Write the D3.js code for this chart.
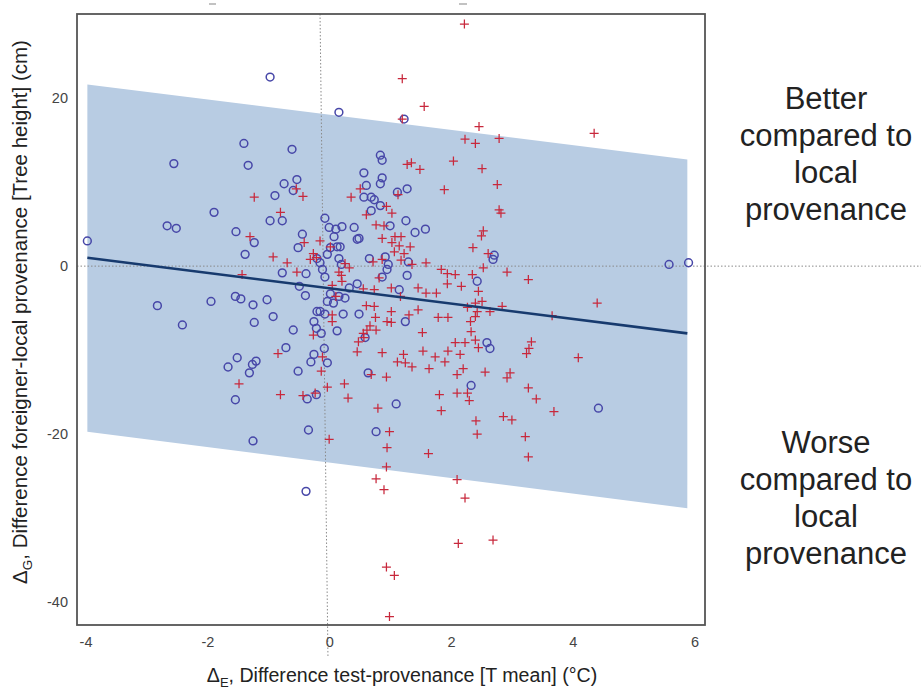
<!DOCTYPE html>
<html><head><meta charset="utf-8">
<script src="https://cdn.jsdelivr.net/npm/d3@7"></script>
<style>
html,body{margin:0;padding:0;background:#fff;}
svg{display:block;font-family:"Liberation Sans",Arial,sans-serif;}
</style></head>
<body>
<svg id="chart" width="921" height="689"></svg>
<script>
// ---- data ----
const circleX = [-0.97,0.16,1.23,-1.40,-0.61,-2.55,-1.33,0.84,0.87,0.57,0.87,0.84,0.61,-0.74,-0.53,-0.59,-0.89,1.12,1.28,0.57,0.69,0.74,0.84,-1.89,0.69,-0.07,-0.97,-0.77,1.26,-2.66,-2.51,0,0.11,0.21,0.41,1.00,-1.53,-0.44,0.08,1.41,1.58,0.46,0.49,-3.97,-1.23,-0.51,0.02,0.13,0.18,-1.38,-0.03,0.66,0.92,2.71,2.69,-0.20,0.16,-0.15,1.30,5.58,5.90,0.20,0.97,0.95,-0.11,-0.77,-0.38,-0.07,1.28,0.87,2.43,0.46,-0.49,0.33,1.15,0.02,-0.39,-1.54,-1.45,-1.02,-1.94,0.16,0.26,-0.03,0.07,-2.82,-1.25,-0.15,-0.07,0.23,0.49,-0.92,-0.25,-1.23,-2.41,1.25,-0.59,-0.21,-0.13,0.13,0.59,2.59,2.64,-0.71,-0.08,-0.25,-1.51,-1.20,-0.30,-0.03,-1.66,-1.26,-1.31,-0.51,0.64,2.33,-1.54,-0.36,-0.21,1.10,4.42,-0.34,0.77,-1.25,-0.38,-0.20];
const circleY = [22.5,18.3,17.5,14.6,13.9,12.2,12.0,13.2,12.6,11.1,10.5,9.8,9.6,9.8,10.3,9.0,8.4,8.8,9.2,8.2,8.2,7.9,7.2,6.4,6.6,5.7,5.4,5.4,5.4,4.8,4.5,4.6,4.4,4.7,4.6,4.8,4.1,3.8,3.5,4.0,4.4,3.2,3.3,3.0,2.8,2.2,2.2,2.3,2.3,1.4,1.4,0.9,1.1,1.3,0.8,0.9,0.9,0.4,0.5,0.2,0.4,0.2,0.2,-0.4,-0.4,-0.8,-0.9,-1.3,-1.1,-1.3,-1.8,-2.1,-2.4,-2.6,-2.8,-3.3,-3.5,-3.6,-3.9,-4.0,-4.2,-3.6,-3.8,-4.2,-4.4,-4.7,-4.6,-5.4,-5.7,-5.7,-5.7,-6.0,-6.6,-6.7,-7.0,-6.6,-7.6,-7.4,-8.0,-7.7,-8.5,-9.1,-9.8,-9.7,-9.8,-10.5,-10.9,-11.3,-11.4,-11.5,-12.0,-11.7,-12.7,-12.5,-12.7,-14.2,-15.9,-15.8,-15.3,-16.4,-16.9,-19.5,-19.7,-20.8,-26.8,-5.4];
const plusX = [2.22,1.20,1.56,1.20,2.46,4.35,2.23,2.40,2.79,2.04,1.28,1.35,1.49,2.51,2.76,1.89,0.51,-0.54,-1.23,-0.43,0.36,1.13,0.94,2.79,2.82,-0.80,1.03,0.61,0.77,0.90,2.53,2.50,-1.30,1.08,1.18,0.87,-0.41,-0.15,1.03,1.15,1.33,2.36,0.02,1.07,1.23,2.61,-0.26,-0.21,-0.31,-0.92,-0.69,0.72,0.87,1.18,1.36,1.59,0.26,0.33,1.84,1.94,2.07,2.35,2.53,2.92,3.27,0.16,0.20,-0.53,-1.43,0.82,0.21,0.05,0.56,0.74,1.02,1.46,1.59,1.76,1.94,2.17,2.45,1.17,0.11,4.40,3.66,2.84,2.27,2.40,2.51,2.64,2.43,0.61,0.74,1.02,1.46,1.31,0.76,0.95,1.02,1.79,1.95,2.32,2.40,0.05,0.05,0.67,0.62,0.77,0.56,1.53,2.33,-0.26,0.57,0.48,0.46,2.23,2.40,2.45,2.07,3.32,3.28,3.24,0.87,1.22,1.54,1.74,1.95,2.15,4.09,-0.84,-0.11,1.12,1.25,1.36,1.64,1.90,2.20,2.10,2.56,-0.13,0.69,0.94,2.97,2.92,-0.03,0.25,0.31,-1.48,-0.80,-0.43,-0.23,3.27,3.40,1.81,2.10,2.27,2.30,0.80,1.84,3.69,2.86,3.00,2.41,0.99,2.43,3.22,0,0.95,1.63,3.27,0.94,0.77,2.10,0.90,2.23,2.12,2.69,0.94,1.07,0.99];
const plusY = [28.8,22.3,19.0,17.5,16.6,15.8,15.1,14.6,15.2,12.5,12.1,12.3,11.5,11.6,9.7,9.1,9.2,9.2,8.2,8.3,8.2,8.5,7.1,6.7,6.3,6.4,6.3,6.1,4.9,4.8,4.2,3.6,3.5,3.5,3.5,3.3,2.8,3.0,2.8,2.4,2.3,2.2,2.3,1.7,1.5,1.5,1.5,1.0,0.8,1.1,0.4,0.5,0.8,0.7,0.2,0.4,0.3,-0.2,-0.4,-0.9,-1.0,-1.0,-0.2,-0.7,-1.6,-0.7,-1.1,-0.7,-1.0,-1.4,-1.8,-2.3,-2.7,-2.8,-2.6,-2.6,-3.2,-3.2,-2.1,-2.4,-3.0,-3.6,-3.6,-4.4,-5.9,-4.8,-4.9,-4.4,-4.2,-5.4,-5.4,-4.7,-4.8,-5.4,-5.2,-5.8,-6.1,-6.6,-6.7,-6.1,-6.1,-6.6,-6.0,-5.8,-6.6,-7.1,-7.6,-7.6,-8.0,-7.9,-7.8,-8.2,-8.5,-9.0,-10.2,-9.1,-8.8,-9.7,-9.1,-9.0,-9.8,-10.4,-10.3,-10.5,-10.1,-10.8,-10.1,-10.5,-10.9,-10.4,-10.8,-11.4,-11.5,-12.0,-12.2,-11.4,-12.2,-12.9,-12.6,-12.5,-12.9,-13.2,-12.7,-13.3,-14.4,-14.0,-15.7,-14.0,-15.3,-15.4,-15.1,-14.5,-15.8,-15.3,-15.1,-15.1,-16.0,-16.9,-17.2,-17.3,-17.9,-18.3,-18.4,-19.7,-20.0,-20.3,-20.6,-21.6,-22.3,-22.7,-23.9,-25.3,-25.4,-26.6,-27.6,-33.0,-32.6,-35.8,-36.8,-41.7];
// regression line and its band (ends at the data range)
const fitX = [-3.97, 5.88];
const fitY = [1.0, -8.0];
const bandUpper = [21.6, 12.7];
const bandLower = [-19.7, -28.8];
// axes
const xTicks = [-4, -2, 0, 2, 4, 6];
const yTicks = [20, 0, -20, -40];
const xDomain = [-4.14, 6.17];
const yDomain = [-42.7, 30];
const annotBetter = ["Better", "compared to", "local", "provenance"];
const annotWorse = ["Worse", "compared to", "local", "provenance"];

// ---- drawing ----
const svg = d3.select("#chart");
const L = 77, R = 705, T = 14, B = 625;
const x = d3.scaleLinear().domain(xDomain).range([L, R]);
const y = d3.scaleLinear().domain(yDomain).range([B, T]);

// band
const bandPts = [[fitX[0], bandUpper[0]], [fitX[1], bandUpper[1]], [fitX[1], bandLower[1]], [fitX[0], bandLower[0]]];
svg.append("path")
  .attr("d", d3.line().x(d => x(d[0])).y(d => y(d[1]))(bandPts) + "Z")
  .attr("fill", "#b8cce3");

// reference dotted lines
svg.append("line")
  .attr("x1", x(xDomain[0])).attr("x2", 921)
  .attr("y1", y(0)).attr("y2", y(0))
  .attr("stroke", "#8a8a8a").attr("stroke-width", 1).attr("stroke-dasharray", "1.5,2");
svg.append("line")
  .attr("x1", x(-0.15)).attr("x2", x(-0.02))
  .attr("y1", T).attr("y2", B + 32)
  .attr("stroke", "#8a8a8a").attr("stroke-width", 1).attr("stroke-dasharray", "1.5,2");

// circles
const circ = circleX.map((v, i) => [v, circleY[i]]);
svg.append("g").selectAll("circle").data(circ).join("circle")
  .attr("cx", d => x(d[0])).attr("cy", d => y(d[1])).attr("r", 3.9)
  .attr("fill", "none").attr("stroke", "#4747a8").attr("stroke-width", 1.5);

// pluses
const plus = plusX.map((v, i) => [v, plusY[i]]);
const ps = 4.5;
svg.append("g").selectAll("path").data(plus).join("path")
  .attr("d", d => `M${x(d[0]) - ps},${y(d[1])}H${x(d[0]) + ps}M${x(d[0])},${y(d[1]) - ps}V${y(d[1]) + ps}`)
  .attr("stroke", "#c8283c").attr("stroke-width", 1.25).attr("fill", "none");

// fit line
svg.append("path")
  .attr("d", d3.line().x(d => x(d[0])).y(d => y(d[1]))(fitX.map((v, i) => [v, fitY[i]])))
  .attr("stroke", "#173a6e").attr("stroke-width", 2.6).attr("fill", "none");

// frame
svg.append("rect").attr("x", L).attr("y", T).attr("width", R - L).attr("height", B - T)
  .attr("fill", "none").attr("stroke", "#555").attr("stroke-width", 1.8);

// axes (plain hyphen minus, as in the reference)
const fmt = d => String(d);
const xa = svg.append("g").attr("transform", `translate(0,${B})`)
  .call(d3.axisBottom(x).tickValues(xTicks).tickSize(0).tickPadding(12).tickFormat(fmt));
const ya = svg.append("g").attr("transform", `translate(${L},0)`)
  .call(d3.axisLeft(y).tickValues(yTicks).tickSize(0).tickPadding(9).tickFormat(fmt));
[xa, ya].forEach(g => {
  g.select(".domain").remove();
  g.selectAll("text").attr("fill", "#444").attr("font-size", 14.5)
    .attr("font-family", '"Liberation Sans",Arial,sans-serif');
});

// axis titles
const xt = svg.append("text").attr("x", 402).attr("y", 682).attr("text-anchor", "middle")
  .attr("font-size", 19.6).attr("fill", "#222");
xt.append("tspan").text("\u0394");
xt.append("tspan").attr("font-size", 13).attr("dy", 5).text("E");
xt.append("tspan").attr("dy", -5).text(", Difference test-provenance [T mean] (\u00B0C)");

const yt = svg.append("text").attr("transform", "translate(27,312) rotate(-90)")
  .attr("text-anchor", "middle").attr("font-size", 20.5).attr("fill", "#222");
yt.append("tspan").text("\u0394");
yt.append("tspan").attr("font-size", 13.5).attr("dy", 5).text("G");
yt.append("tspan").attr("dy", -5).text(", Difference foreigner-local provenance [Tree height] (cm)");

// side annotations
const ann = (lines, y0) => {
  svg.append("g").selectAll("text").data(lines).join("text")
    .attr("x", 826).attr("y", (d, i) => y0 + i * 37)
    .attr("text-anchor", "middle").attr("font-size", 31).attr("fill", "#222")
    .text(d => d);
};
ann(annotBetter, 109);
ann(annotWorse, 453);

// clipped title remnants at the very top
[[209, 216], [459, 467]].forEach(p => {
  svg.append("line").attr("x1", p[0]).attr("x2", p[1]).attr("y1", 4).attr("y2", 4)
    .attr("stroke", "#999").attr("stroke-width", 1.2);
});
</script>
</body></html>
